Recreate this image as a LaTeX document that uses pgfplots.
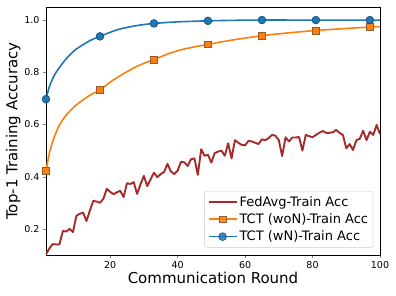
\documentclass[border=0pt]{standalone}
\usepackage{fontspec}
\setmainfont{DejaVu Sans}
\usepackage{pgfplots}
\pgfplotsset{compat=1.18}
\definecolor{tabblue}{HTML}{1F77B4}
\definecolor{taborange}{HTML}{FF7F0E}
\definecolor{fedred}{HTML}{A52A2A}
\begin{document}
\begin{tikzpicture}
\begin{axis}[
  scale only axis,
  width=334pt, height=248pt,
  xmin=1, xmax=100, ymin=0.1, ymax=1.05,
  xtick={20,40,60,80,100},
  ytick={0.2,0.4,0.6,0.8,1.0},
  yticklabel style={/pgf/number format/.cd,fixed,fixed zerofill,precision=1},
  /pgf/number format/assume math mode=true,
  tick label style={font=\fontsize{9.5}{11}\selectfont},
  tick align=outside, major tick length=3pt,
  xtick pos=bottom, ytick pos=left,
  axis line style={line width=0.8pt},
  xlabel={Communication Round},
  ylabel={Top-1 Training Accuracy},
  label style={font=\fontsize{15}{17}\selectfont},
  xlabel style={yshift=3pt},
  ylabel style={yshift=-3pt},
  legend style={at={(0.98,0.03)}, anchor=south east, font=\fontsize{13}{15}\selectfont,
    draw=black!20, rounded corners=2pt, fill=white, fill opacity=0.85, text opacity=1,
    row sep=2pt, inner xsep=3pt, inner ysep=3pt},
  legend cell align=left,
  legend image code/.code={\draw[mark indices={2}] plot coordinates {(0pt,0pt)(14pt,0pt)(28pt,0pt)};},
]
\addplot[fedred, line width=1.9pt, line join=round] coordinates {
(1,0.103)(2,0.125)(3,0.142)(4,0.140)(5,0.141)(6,0.192)(7,0.190)(8,0.200)(9,0.188)(10,0.250)
(11,0.258)(12,0.262)(13,0.230)(14,0.270)(15,0.307)(16,0.305)(17,0.300)(18,0.315)(19,0.353)(20,0.342)
(21,0.333)(22,0.340)(23,0.346)(24,0.322)(25,0.375)(26,0.372)(27,0.379)(28,0.334)(29,0.370)(30,0.403)
(31,0.364)(32,0.390)(33,0.415)(34,0.398)(35,0.410)(36,0.418)(37,0.449)(38,0.420)(39,0.410)(40,0.423)
(41,0.457)(42,0.455)(43,0.441)(44,0.467)(45,0.470)(46,0.407)(47,0.505)(48,0.480)(49,0.484)(50,0.454)
(51,0.490)(52,0.496)(53,0.500)(54,0.480)(55,0.528)(56,0.470)(57,0.540)(58,0.530)(59,0.522)(60,0.520)
(61,0.537)(62,0.535)(63,0.530)(64,0.525)(65,0.543)(66,0.540)(67,0.548)(68,0.560)(69,0.557)(70,0.540)
(71,0.479)(72,0.551)(73,0.535)(74,0.550)(75,0.550)(76,0.552)(77,0.500)(78,0.560)(79,0.555)(80,0.551)
(81,0.560)(82,0.568)(83,0.575)(84,0.568)(85,0.568)(86,0.570)(87,0.579)(88,0.568)(89,0.560)(90,0.509)
(91,0.525)(92,0.502)(93,0.540)(94,0.545)(95,0.576)(96,0.540)(97,0.572)(98,0.560)(99,0.598)(100,0.563)
};
\addlegendentry{FedAvg-Train Acc}
\addplot[taborange, line width=1.6pt, smooth, tension=0.5,
  mark=square*, mark size=3.4pt, mark indices={1,9,13,16,18,20,22},
  mark options={fill=taborange, draw=black!40!taborange!70!gray, line width=0.6pt, solid}] coordinates {
(1,0.422)(2,0.490)(3,0.535)(4,0.570)(5,0.598)(7,0.636)(10,0.675)(14,0.712)(17,0.732)(20,0.762)
(23,0.787)(28,0.823)(33,0.849)(38,0.874)(42,0.889)(49,0.907)(57,0.925)(65,0.940)(73,0.951)(81,0.960)
(89,0.967)(97,0.973)(100,0.975)
};
\addlegendentry{TCT (woN)-Train Acc}
\addplot[tabblue, line width=1.6pt, smooth, tension=0.5,
  mark=*, mark size=3.9pt, mark indices={1,9,13,15,17,19,21},
  mark options={fill=tabblue, draw=black!35!tabblue, line width=0.6pt, solid}] coordinates {
(1,0.697)(2,0.745)(3,0.776)(4,0.800)(6,0.836)(8,0.866)(10,0.889)(14,0.921)(17,0.9375)(20,0.953)
(23,0.966)(28,0.979)(33,0.987)(40,0.993)(49,0.997)(57,0.999)(65,1.0)(73,1.0)(81,1.0)(89,1.0)
(97,1.0)(100,1.0)
};
\addlegendentry{TCT (wN)-Train Acc}
\end{axis}
\pgfresetboundingbox
\path ([shift={(-46pt,-41pt)}]current axis.south west) rectangle ([shift={(16pt,7pt)}]current axis.north east);
\end{tikzpicture}
\end{document}
